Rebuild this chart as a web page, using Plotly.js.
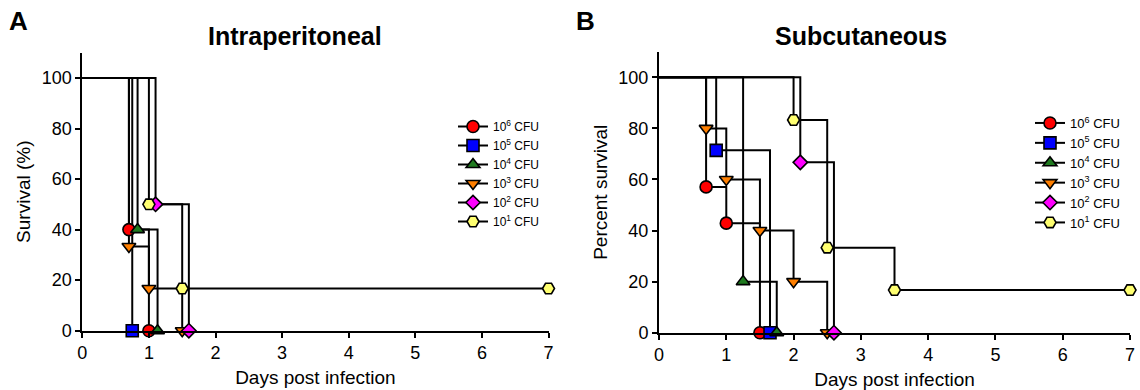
<!DOCTYPE html>
<html><head><meta charset="utf-8">
<script src="https://cdn.plot.ly/plotly-3.0.1.min.js"></script>
<style>html,body{margin:0;padding:0;background:#fff}</style>
</head><body><div id="chart" style="width:1140px;height:390px"></div>
<script>
// Legend labels (inoculum dose)
const seriesNames = ['10<sup>6</sup> CFU', '10<sup>5</sup> CFU', '10<sup>4</sup> CFU', '10<sup>3</sup> CFU', '10<sup>2</sup> CFU', '10<sup>1</sup> CFU'];
const startDay = 0;
const startSurvival = 100;

// Panel A: Intraperitoneal  (event days and survival % after each step)
const ipDays_1e6 = [0.7, 1.0];            const ipSurv_1e6 = [40, 0];
const ipDays_1e5 = [0.75];                const ipSurv_1e5 = [0];
const ipDays_1e4 = [0.83, 1.13];          const ipSurv_1e4 = [40, 0];
const ipDays_1e3 = [0.7, 1.0, 1.5];       const ipSurv_1e3 = [33.3, 16.7, 0];
const ipDays_1e2 = [1.1, 1.6];            const ipSurv_1e2 = [50, 0];
const ipDays_1e1 = [1.0, 1.5, 7];         const ipSurv_1e1 = [50, 16.7, 16.7];

// Panel B: Subcutaneous
const scDays_1e6 = [0.7, 1.0, 1.5];       const scSurv_1e6 = [57.1, 42.9, 0];
const scDays_1e5 = [0.85, 1.65];          const scSurv_1e5 = [71.4, 0];
const scDays_1e4 = [1.25, 1.75];          const scSurv_1e4 = [20, 0];
const scDays_1e3 = [0.7, 1.0, 1.5, 2.0, 2.5]; const scSurv_1e3 = [80, 60, 40, 20, 0];
const scDays_1e2 = [2.1, 2.6];            const scSurv_1e2 = [66.7, 0];
const scDays_1e1 = [2.0, 2.5, 3.5, 7];    const scSurv_1e1 = [83.3, 33.3, 16.7, 16.7];

const xTicks = [0, 1, 2, 3, 4, 5, 6, 7];
const yTicks = [0, 20, 40, 60, 80, 100];

// styles
const fillColors = ['#ff0000', '#0000ff', '#1f7a1f', '#ff7f00', '#ff00ff', '#ffff70'];
const symbols = ['circle', 'square', 'triangle-up', 'triangle-down', 'diamond', 'hexagon2'];
const sizes = [12, 12, 12, 12, 11, 12];

const ipSeries = [[ipDays_1e6, ipSurv_1e6], [ipDays_1e5, ipSurv_1e5], [ipDays_1e4, ipSurv_1e4],
                  [ipDays_1e3, ipSurv_1e3], [ipDays_1e2, ipSurv_1e2], [ipDays_1e1, ipSurv_1e1]];
const scSeries = [[scDays_1e6, scSurv_1e6], [scDays_1e5, scSurv_1e5], [scDays_1e4, scSurv_1e4],
                  [scDays_1e3, scSurv_1e3], [scDays_1e2, scSurv_1e2], [scDays_1e1, scSurv_1e1]];

const FONT = '"Liberation Sans", Arial, Helvetica, sans-serif';
const traces = [];
function addPanel(series, xa, ya, legendName) {
  series.forEach(function (s) {
    traces.push({
      type: 'scatter', mode: 'lines', xaxis: xa, yaxis: ya,
      x: [startDay].concat(s[0]), y: [startSurvival].concat(s[1]),
      line: {shape: 'hv', color: '#000', width: 2},
      showlegend: false, hoverinfo: 'skip'
    });
  });
  series.forEach(function (s, i) {
    const mx = [], my = [];
    s[0].forEach(function (d, k) { if (k) { mx.push(null); my.push(null); } mx.push(d); my.push(s[1][k]); });
    traces.push({
      type: 'scatter', mode: 'lines+markers', xaxis: xa, yaxis: ya,
      x: mx, y: my, connectgaps: false, cliponaxis: false,
      name: seriesNames[i], legend: legendName,
      line: {color: '#000', width: 2},
      marker: {symbol: symbols[i], size: sizes[i], color: fillColors[i], line: {color: '#000', width: 1.6}}
    });
  });
}
addPanel(ipSeries, 'x', 'y', 'legend');
addPanel(scSeries, 'x2', 'y2', 'legend2');

function xAxis(domain, anchor) {
  return {domain: domain, anchor: anchor, range: [0, 7], tickvals: xTicks, showgrid: false, zeroline: false,
    showline: true, linecolor: '#000', linewidth: 2, ticks: 'outside', ticklen: 5, tickwidth: 2, tickcolor: '#000',
    tickfont: {family: FONT, size: 18, color: '#000'},
    title: {text: 'Days post infection', font: {family: FONT, size: 19, color: '#000'}, standoff: 8}, fixedrange: true};
}
function yAxis(domain, anchor, title) {
  return {domain: domain, anchor: anchor, range: [0, 110], tickvals: yTicks, showgrid: false, zeroline: false,
    showline: true, linecolor: '#000', linewidth: 2, ticks: 'outside', ticklen: 5, tickwidth: 2, tickcolor: '#000',
    tickfont: {family: FONT, size: 18, color: '#000'},
    title: {text: title, font: {family: FONT, size: 19, color: '#000'}, standoff: 6}, fixedrange: true};
}

function legendCfg(x, y, fs) {
  return {x: x, y: y, bgcolor: 'rgba(0,0,0,0)', borderwidth: 0, font: {family: FONT, size: fs, color: '#000'},
    xanchor: 'left', yanchor: 'top', traceorder: 'normal', itemwidth: 30};
}

const layout = {
  width: 1140, height: 390, autosize: false,
  margin: {l: 0, r: 0, t: 0, b: 0},
  paper_bgcolor: '#fff', plot_bgcolor: '#fff',
  font: {family: FONT, color: '#000'},
  showlegend: true,
  xaxis: xAxis([82.3 / 1140, 548.5 / 1140], 'y'),
  yaxis: yAxis([(390 - 330.7) / 390, (390 - 52.7) / 390], 'x', 'Survival (%)'),
  xaxis2: xAxis([659 / 1140, 1130 / 1140], 'y2'),
  yaxis2: yAxis([(390 - 332.7) / 390, (390 - 51.8) / 390], 'x2', 'Percent survival'),
  legend: legendCfg(453 / 1140, (390 - 112) / 390, 12),
  legend2: legendCfg(1030 / 1140, (390 - 108) / 390, 13),
  annotations: [
    {text: 'A', xref: 'paper', yref: 'paper', x: 7 / 1140, y: (390 - 21) / 390, xanchor: 'left', yanchor: 'middle', showarrow: false,
     font: {family: FONT, size: 26, color: '#000', weight: 'bold'}},
    {text: 'Intraperitoneal', xref: 'paper', yref: 'paper', x: 295 / 1140, y: (390 - 36) / 390, xanchor: 'center', yanchor: 'middle', showarrow: false,
     font: {family: FONT, size: 25, color: '#000', weight: 'bold'}},
    {text: 'B', xref: 'paper', yref: 'paper', x: 574 / 1140, y: (390 - 21) / 390, xanchor: 'left', yanchor: 'middle', showarrow: false,
     font: {family: FONT, size: 26, color: '#000', weight: 'bold'}},
    {text: 'Subcutaneous', xref: 'paper', yref: 'paper', x: 861 / 1140, y: (390 - 36) / 390, xanchor: 'center', yanchor: 'middle', showarrow: false,
     font: {family: FONT, size: 25, color: '#000', weight: 'bold'}}
  ]
};

Plotly.newPlot('chart', traces, layout, {displayModeBar: false, staticPlot: true});
</script>
</body></html>
